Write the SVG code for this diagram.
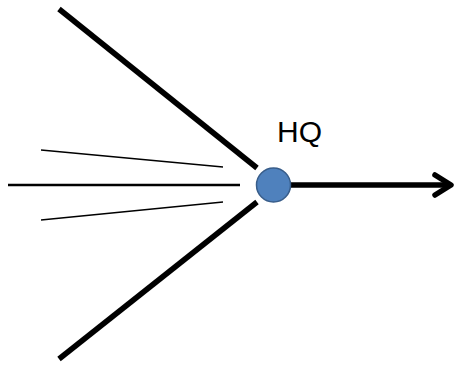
<svg xmlns="http://www.w3.org/2000/svg" width="454" height="365" viewBox="0 0 454 365">
<style>
.thick{stroke:#000;stroke-width:5.5;fill:none}
.mid{stroke:#000;stroke-width:2.5;fill:none}
.thin{stroke:#000;stroke-width:1.5;fill:none}
.lbl{font-family:"Liberation Sans",Arial,sans-serif;font-size:30px;fill:#000}
</style>
<rect width="454" height="365" fill="#fff"/>
<g id="connectors">
<line class="thick" x1="59" y1="9" x2="257" y2="168"/>
<line class="thick" x1="59" y1="359" x2="257" y2="202"/>
<line class="mid" x1="8" y1="185" x2="240" y2="185"/>
<line class="thin" x1="41" y1="150" x2="223" y2="167"/>
<line class="thin" x1="41" y1="220" x2="223" y2="202"/>
<line class="thick" x1="290" y1="185" x2="450" y2="185"/>
<polyline class="thick" points="435,175 451,185 435,195" stroke-linecap="round" stroke-linejoin="round"/>
</g>
<g id="hq">
<circle cx="273.5" cy="185" r="17" fill="#4f81bd" stroke="#385d8a" stroke-width="1.5"/>
<text class="lbl" x="277" y="142">HQ</text>
</g>
</svg>
